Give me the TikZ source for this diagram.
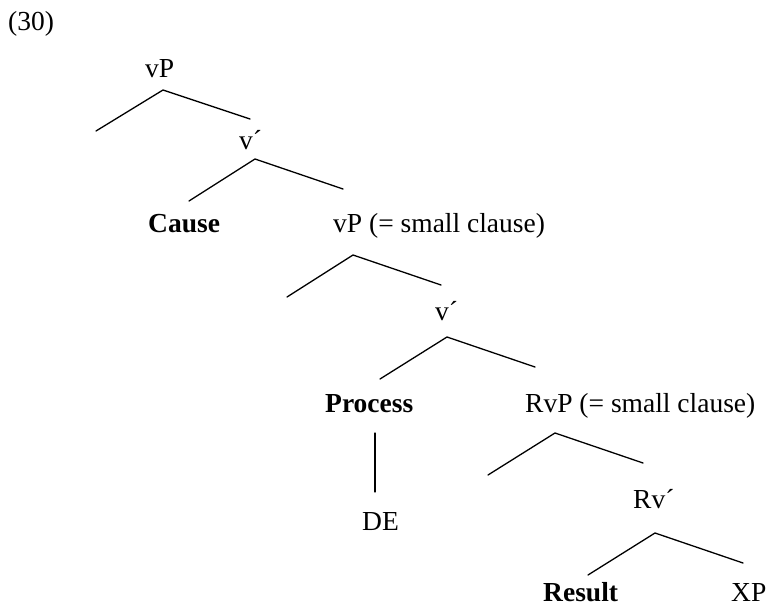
\documentclass[tikz,border=0pt]{standalone}
\usepackage{fontspec}
\setmainfont{Liberation Serif}
\begin{document}
\begin{tikzpicture}[x=1pt,y=-1pt,
  lbl/.style={inner sep=0pt, anchor=base west, font=\fontsize{27.5}{32}\selectfont},
  head/.style={lbl, font=\fontsize{27.5}{32}\selectfont\bfseries},
  branch/.style={line width=1.3pt, line cap=round}]
\useasboundingbox (0,0) rectangle (769,607);
\fill[white] (0,0) rectangle (769,607);

% example number
\node[lbl] (num) at (8,31) {(30)};

% top vP
\node[lbl] (vP1) at (145,78) {vP};
\coordinate (a1) at (163,90);
\coordinate (a1l) at (96,131);
\coordinate (a1r) at (250,119);
\draw[branch] (a1l) -- (a1) -- (a1r);

\node[lbl] (vb1) at (239,150) {v´};
\coordinate (a2) at (255,159);
\coordinate (a2l) at (189,201);
\coordinate (a2r) at (343,189);
\draw[branch] (a2l) -- (a2) -- (a2r);

\node[head] (cause) at (148,233) {Cause};
\node[lbl] (vP2) at (333,233) {vP (= small clause)};

\coordinate (a3) at (353,255);
\coordinate (a3l) at (287,297);
\coordinate (a3r) at (441,285);
\draw[branch] (a3l) -- (a3) -- (a3r);

\node[lbl] (vb2) at (435,320) {v´};
\coordinate (a4) at (447,337);
\coordinate (a4l) at (380,379);
\coordinate (a4r) at (535,367);
\draw[branch] (a4l) -- (a4) -- (a4r);

\node[head] (process) at (325,412) {Process};
\node[lbl] (RvP) at (525,412) {RvP (= small clause)};

% Process dominates DE
\node[lbl] (de) at (362,530) {DE};
\coordinate (p1) at (375,433);
\coordinate (p2) at (375,492);
\draw[branch] (p1) -- (p2);

\coordinate (a5) at (555,433);
\coordinate (a5l) at (488,475);
\coordinate (a5r) at (643,463);
\draw[branch] (a5l) -- (a5) -- (a5r);

\node[lbl] (Rvb) at (633,508) {Rv´};
\coordinate (a6) at (655,533);
\coordinate (a6l) at (588,575);
\coordinate (a6r) at (743,563);
\draw[branch] (a6l) -- (a6) -- (a6r);

\node[head] (result) at (543,601) {Result};
\node[lbl] (xp) at (731,601) {XP};
\end{tikzpicture}
\end{document}
